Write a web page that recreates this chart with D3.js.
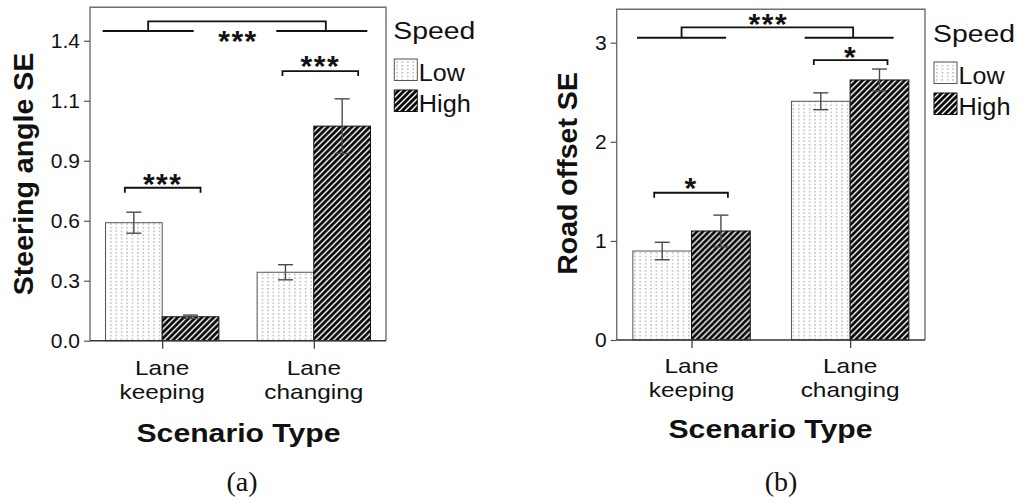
<!DOCTYPE html>
<html>
<head>
<meta charset="utf-8">
<script src="https://cdn.jsdelivr.net/npm/d3@7"></script>
<style>
  html, body { margin: 0; padding: 0; background: #fff; }
  svg { display: block; }
  text { font-family: "Liberation Sans", Arial, sans-serif; fill: #111; }
</style>
</head>
<body>
<svg id="fig" width="1023" height="502"></svg>
<script>
// Scenario categories and speed groups
const categories = ["Lane keeping", "Lane changing"];
const speeds = ["Low", "High"];

// (a) Steering angle SE: means and error half-widths per scenario
const steeringLow = [0.562, 0.326];
const steeringHigh = [0.114, 1.022];
const steeringLowErr = [0.050, 0.036];
const steeringHighErr = [0.008, 0.130];
const steeringTicks = [0, 0.2857, 0.5714, 0.8571, 1.1429, 1.4286];
const steeringTickLabels = ["0.0", "0.3", "0.6", "0.9", "1.1", "1.4"];
const steeringSig = ["***", "***", "***"]; // within LK, within LC, between scenarios

// (b) Road offset SE
const offsetLow = [0.898, 2.409];
const offsetHigh = [1.100, 2.624];
const offsetLowErr = [0.088, 0.085];
const offsetHighErr = [0.160, 0.110];
const offsetTicks = [0, 1, 2, 3];
const offsetTickLabels = ["0", "1", "2", "3"];
const offsetSig = ["*", "*", "***"];

const svg = d3.select("#fig");

// Fill patterns: light dotted columns for Low, black/white diagonal hatch for High
const defs = svg.append("defs");
const dots = defs.append("pattern").attr("id", "dots")
  .attr("patternUnits", "userSpaceOnUse").attr("width", 5.4).attr("height", 3.6);
dots.append("rect").attr("width", 5.4).attr("height", 3.6).attr("fill", "#fff");
dots.append("rect").attr("x", 2.2).attr("y", 0).attr("width", 1).attr("height", 1.6).attr("fill", "#9a9a9a");

const hatch = defs.append("pattern").attr("id", "hatch")
  .attr("patternUnits", "userSpaceOnUse").attr("width", 6).attr("height", 6);
hatch.append("rect").attr("width", 6).attr("height", 6).attr("fill", "#0a0a0a");
hatch.append("path").attr("d", "M-1.5,1.5 L1.5,-1.5 M0,6 L6,0 M4.5,7.5 L7.5,4.5")
  .attr("stroke", "#fff").attr("stroke-width", 1.4);

const fills = { Low: "url(#dots)", High: "url(#hatch)" };
const borders = { Low: "#555", High: "#111" };

function drawChart(cfg) {
  const g = svg.append("g");
  const { left, top, right, bottom } = cfg.frame;

  const x = d3.scalePoint().domain(categories).range([left, right]).padding(cfg.pad);
  const xs = d3.scaleBand().domain(speeds).range([-cfg.barW, cfg.barW]).padding(0);
  const y = d3.scaleLinear().domain([0, cfg.yMax]).range([bottom, top]);

  const rows = categories.map((c, i) => ({
    cat: c,
    vals: [
      { speed: "Low", v: cfg.low[i], e: cfg.lowErr[i] },
      { speed: "High", v: cfg.high[i], e: cfg.highErr[i] }
    ]
  }));

  // bars
  const groups = g.selectAll("g.cat").data(rows).join("g")
    .attr("class", "cat")
    .attr("transform", d => `translate(${x(d.cat)},0)`);
  groups.selectAll("rect").data(d => d.vals).join("rect")
    .attr("x", d => xs(d.speed))
    .attr("width", xs.bandwidth())
    .attr("y", d => y(d.v))
    .attr("height", d => y(0) - y(d.v))
    .attr("fill", d => fills[d.speed])
    .attr("stroke", d => borders[d.speed])
    .attr("stroke-width", 1);

  // error bars
  const eb = groups.selectAll("g.err").data(d => d.vals).join("g")
    .attr("class", "err")
    .attr("transform", d => `translate(${xs(d.speed) + xs.bandwidth() / 2},0)`)
    .attr("stroke", "#4a4a4a").attr("stroke-width", 1.4);
  eb.append("line").attr("y1", d => y(d.v - d.e)).attr("y2", d => y(d.v + d.e));
  eb.append("line").attr("x1", -7.5).attr("x2", 7.5).attr("y1", d => y(d.v + d.e)).attr("y2", d => y(d.v + d.e));
  eb.append("line").attr("x1", -7.5).attr("x2", 7.5).attr("y1", d => y(d.v - d.e)).attr("y2", d => y(d.v - d.e));

  // frame (left, top, right)
  g.append("path")
    .attr("d", `M${left},${bottom} V${top} H${right} V${bottom}`)
    .attr("fill", "none").attr("stroke", "#6f6f6f").attr("stroke-width", 1.4);

  // y axis
  const yAxis = d3.axisLeft(y).tickValues(cfg.ticks)
    .tickFormat((d, i) => cfg.tickLabels[i]).tickSize(6).tickPadding(4);
  const ya = g.append("g").attr("transform", `translate(${left},0)`).call(yAxis);
  ya.select(".domain").remove();
  ya.selectAll(".tick line").attr("stroke", "#555").attr("stroke-width", 1.2);
  ya.selectAll(".tick text").attr("font-size", 21).attr("fill", "#111")
    .attr("font-family", "Liberation Sans, Arial, sans-serif");

  // x axis
  const xAxis = d3.axisBottom(x).tickSize(8).tickFormat("");
  const xa = g.append("g").attr("transform", `translate(0,${bottom})`).call(xAxis);
  xa.select(".domain").attr("d", `M${left},0 H${right}`).attr("stroke", "#333").attr("stroke-width", 1.4);
  xa.selectAll(".tick line").attr("stroke", "#333").attr("stroke-width", 1.2);

  // two-line category labels
  categories.forEach(c => {
    c.split(" ").forEach((w, j) => {
      g.append("text")
        .attr("transform", `translate(${x(c)},${cfg.catY + j * 24}) scale(1.22,1)`)
        .attr("text-anchor", "middle").attr("font-size", 20).text(w);
    });
  });

  // axis titles
  g.append("text")
    .attr("transform", `translate(${cfg.yTitleX},${cfg.yTitleY}) rotate(-90)`)
    .attr("text-anchor", "middle").attr("font-size", 28.5).attr("font-weight", "bold")
    .text(cfg.yTitle);
  g.append("text")
    .attr("x", cfg.xTitleX).attr("y", cfg.xTitleY)
    .attr("text-anchor", "middle").attr("font-size", 26).attr("font-weight", "bold")
    .attr("textLength", 204).attr("lengthAdjust", "spacingAndGlyphs")
    .text("Scenario Type");

  // significance brackets
  const bw = xs.bandwidth();
  const lowC = c => x(c) + xs("Low") + bw / 2;
  const highC = c => x(c) + xs("High") + bw / 2;
  const star = (sx, sy, s) => g.append("text")
    .attr("x", sx).attr("y", sy).attr("text-anchor", "middle")
    .attr("font-size", 30).attr("font-weight", "bold").attr("letter-spacing", 1.5)
    .text(s);
  const line = d => g.append("path").attr("d", d).attr("fill", "none")
    .attr("stroke", "#111").attr("stroke-width", 1.8);

  cfg.within.forEach((b, i) => {
    const c = categories[i];
    const x1 = lowC(c) + b.dl, x2 = highC(c) + b.dr, by = y(b.y);
    line(`M${x1},${by + 5} V${by} H${x2} V${by + 5}`);
    star((x1 + x2) / 2, by + b.starDy, cfg.sig[i]);
  });

  const bt = cfg.between;
  const ly = y(bt.y), ty = y(bt.top);
  const lcx = x(categories[0]) + bt.lc, rcx = x(categories[1]) + bt.rc;
  line(`M${lcx - bt.half},${ly} H${lcx + bt.half}`);
  line(`M${rcx - bt.half},${ly} H${rcx + bt.half}`);
  line(`M${lcx + bt.lv},${ly} V${ty} H${rcx + bt.rv} V${ly}`);
  star(bt.starX, ly + bt.starDy, cfg.sig[2]);

  // legend
  const lg = g.append("g");
  lg.append("text").attr("x", cfg.legX - 1).attr("y", cfg.legY)
    .attr("font-size", 23).attr("textLength", 82).attr("lengthAdjust", "spacingAndGlyphs")
    .text("Speed");
  speeds.forEach((s, i) => {
    const yy = cfg.legY + 20 + i * 31;
    lg.append("rect").attr("x", cfg.legX).attr("y", yy).attr("width", 23).attr("height", 21.5)
      .attr("fill", fills[s]).attr("stroke", borders[s]).attr("stroke-width", 1);
    lg.append("text").attr("x", cfg.legX + 24.5).attr("y", yy + 22)
      .attr("font-size", 23).attr("textLength", s === "Low" ? 46 : 52)
      .attr("lengthAdjust", "spacingAndGlyphs").text(s);
  });

  // panel caption
  g.append("text").attr("x", cfg.capX).attr("y", 491)
    .attr("text-anchor", "middle").attr("font-size", 28)
    .attr("style", "font-family: 'Liberation Serif', 'DejaVu Serif', serif")
    .text(cfg.caption);
}

drawChart({
  frame: { left: 90, top: 7.3, right: 386, bottom: 340.7 },
  pad: 0.476, barW: 56.7, yMax: 1.588,
  low: steeringLow, high: steeringHigh, lowErr: steeringLowErr, highErr: steeringHighErr,
  ticks: steeringTicks, tickLabels: steeringTickLabels, sig: steeringSig,
  catY: 374.5, yTitle: "Steering angle SE", yTitleX: 33, yTitleY: 174,
  xTitleX: 238.5, xTitleY: 442,
  within: [
    { y: 0.7286, dl: -9, dr: 10, starDy: 6 },
    { y: 1.284, dl: -3, dr: 16, starDy: 4.5 }
  ],
  between: { y: 1.475, top: 1.521, lc: -14, rc: 8, half: 45.5, lv: 0, rv: 4, starX: 238, starDy: 19.5 },
  legX: 394.3, legY: 39, capX: 242, caption: "(a)"
});

drawChart({
  frame: { left: 616.7, top: 9.3, right: 925, bottom: 340 },
  pad: 0.472, barW: 58.7, yMax: 3.337,
  low: offsetLow, high: offsetHigh, lowErr: offsetLowErr, highErr: offsetHighErr,
  ticks: offsetTicks, tickLabels: offsetTickLabels, sig: offsetSig,
  catY: 372.7, yTitle: "Road offset SE", yTitleX: 577, yTitleY: 173.5,
  xTitleX: 770.5, xTitleY: 438,
  within: [
    { y: 1.486, dl: -8, dr: 7, starDy: 5.5 },
    { y: 2.825, dl: -7, dr: 8, starDy: 6.5 }
  ],
  between: { y: 3.05, top: 3.155, lc: -10, rc: -1, half: 44.5, lv: 0, rv: 4, starX: 768.3, starDy: -3.5 },
  legX: 934, legY: 42, capX: 781, caption: "(b)"
});
</script>
</body>
</html>
